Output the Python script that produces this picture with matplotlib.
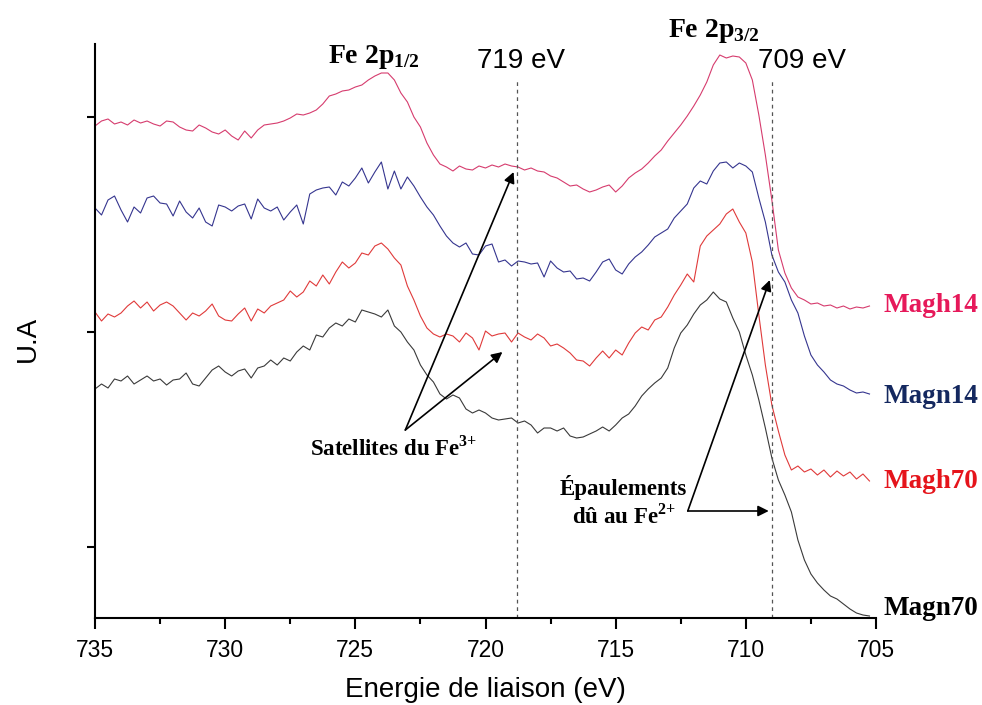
import numpy as np
import matplotlib
matplotlib.use("Agg")
import matplotlib.pyplot as plt

# binding energy grid (eV), 0.25 eV step from 735 down to 705.25
energy = 735 - 0.25 * np.arange(120)

# intensities (arbitrary units)
magh14 = [492, 497, 499, 494, 496, 493, 498, 495, 497, 494,
          492, 497, 496, 491, 488, 487, 493, 490, 486, 484,
          488, 482, 478, 487, 480, 488, 493, 494, 495, 497,
          500, 504, 503, 505, 508, 514, 522, 524, 527, 528,
          531, 533, 538, 542, 545, 545, 538, 525, 516, 501,
          491, 475, 463, 454, 451, 447, 452, 449, 448, 452,
          450, 453, 451, 454, 452, 451, 448, 450, 447, 446,
          442, 440, 436, 432, 433, 429, 426, 428, 431, 433,
          426, 432, 440, 445, 449, 455, 462, 468, 477, 485,
          493, 502, 512, 523, 536, 553, 563, 560, 562, 561,
          555, 538, 503, 463, 418, 368, 345, 330, 321, 318,
          314, 315, 312, 313, 310, 312, 309, 311, 310, 312]

magn14 = [410, 403, 418, 422, 408, 396, 411, 405, 420, 422,
          415, 414, 402, 417, 406, 400, 410, 396, 392, 413,
          411, 407, 412, 414, 399, 419, 410, 407, 411, 398,
          406, 413, 394, 424, 428, 430, 431, 423, 436, 432,
          440, 450, 435, 446, 456, 429, 447, 429, 441, 432,
          421, 411, 403, 392, 382, 375, 371, 375, 364, 363,
          372, 374, 356, 358, 352, 357, 356, 354, 355, 341,
          357, 350, 346, 347, 339, 340, 337, 346, 356, 359,
          348, 344, 354, 361, 366, 373, 381, 385, 389, 400,
          407, 414, 430, 437, 434, 447, 455, 456, 450, 455,
          452, 446, 420, 396, 363, 346, 336, 318, 305, 282,
          263, 253, 246, 238, 234, 232, 228, 225, 226, 224]

magh70 = [306, 297, 304, 301, 305, 312, 317, 310, 316, 307,
          313, 316, 312, 305, 298, 305, 302, 307, 314, 302,
          298, 297, 304, 310, 297, 309, 305, 312, 315, 318,
          327, 321, 326, 337, 332, 343, 334, 346, 356, 350,
          355, 365, 363, 372, 375, 369, 360, 353, 332, 318,
          302, 290, 284, 281, 284, 282, 276, 285, 280, 268,
          287, 282, 284, 285, 276, 285, 281, 278, 284, 280,
          272, 274, 270, 265, 258, 257, 252, 260, 267, 260,
          268, 263, 275, 285, 291, 288, 298, 301, 311, 323,
          333, 344, 336, 372, 382, 388, 394, 404, 409, 396,
          385, 356, 303, 253, 213, 187, 163, 148, 152, 146,
          149, 143, 148, 141, 147, 142, 146, 139, 144, 137]

magn70 = [229, 234, 230, 239, 237, 242, 234, 238, 242, 237,
          239, 233, 238, 239, 245, 234, 232, 240, 248, 252,
          246, 242, 247, 249, 240, 250, 252, 258, 253, 260,
          257, 266, 272, 268, 283, 281, 290, 295, 292, 299,
          296, 308, 306, 304, 301, 308, 292, 286, 276, 268,
          253, 243, 236, 224, 219, 223, 220, 209, 205, 208,
          205, 200, 198, 199, 200, 195, 197, 193, 185, 190,
          190, 187, 190, 182, 180, 181, 184, 187, 191, 187,
          193, 200, 204, 212, 222, 229, 235, 240, 250, 270,
          285, 293, 304, 313, 318, 326, 319, 316, 300, 286,
          263, 243, 218, 190, 160, 138, 123, 106, 78, 58,
          44, 35, 28, 22, 19, 14, 9, 5, 3, 2]

names = ["Magh14", "Magn14", "Magh70", "Magn70"]
series = [magh14, magn14, magh70, magn70]
line_colors = ["#d63c6e", "#35358f", "#e03a3a", "#3a3a3a"]
label_colors = ["#e6195a", "#14285f", "#e5141b", "#000000"]
label_y = [306, 215, 130, 3]

marks = [718.8, 709]
serif = "Liberation Serif"
sans = "Liberation Sans"

fig = plt.figure(figsize=(9.82, 7.05), dpi=100)
ax = fig.add_axes([95 / 982, 87 / 705, 781 / 982, 574 / 705])

for name, y, c, lc, ly in zip(names, series, line_colors, label_colors, label_y):
    ax.plot(energy, y, color=c, lw=0.8)
    ax.text(704.73, ly, name, color=lc, fontsize=19.5, fontweight="bold",
            family=serif, ha="left", va="baseline", clip_on=False)

for m in marks:
    ax.plot([m, m], [0, 540], color="#555555", lw=0.9, ls=(0, (3, 3)))

ax.text(718.62, 550, "719 eV", fontsize=20, family=sans, ha="center", va="baseline")
ax.text(707.85, 550, "709 eV", fontsize=20, family=sans, ha="center", va="baseline")
ax.text(726.04, 555, r"Fe 2p$_{\mathregular{1/2}}$", fontsize=20, fontweight="bold",
        family=serif, ha="left", va="baseline")
ax.text(713.0, 581, r"Fe 2p$_{\mathregular{3/2}}$", fontsize=20, fontweight="bold",
        family=serif, ha="left", va="baseline")

ax.text(726.73, 163, r"Satellites du Fe$^{\mathregular{3{+}}}$", fontsize=16.5,
        fontweight="bold", family=serif, ha="left", va="baseline")
ax.text(714.69, 123, "Épaulements", fontsize=16.5, fontweight="bold",
        family=serif, ha="center", va="baseline")
ax.text(714.69, 95, r"dû au Fe$^{\mathregular{2{+}}}$", fontsize=16.5,
        fontweight="bold", family=serif, ha="center", va="baseline")

arrow = dict(arrowstyle="-|>", color="black", lw=1.2, mutation_scale=16,
             shrinkA=0, shrinkB=0)
for end in [(718.92, 446), (719.35, 266)]:
    ax.annotate("", xy=end, xytext=(723.08, 188), arrowprops=arrow)
for end in [(709.08, 338), (709.12, 107)]:
    ax.annotate("", xy=end, xytext=(712.23, 107), arrowprops=arrow)

ax.set_xlim(735, 705)
ax.set_ylim(0, 574)
ax.set_xticks([735, 730, 725, 720, 715, 710, 705])
ax.set_xticks(np.arange(705, 736, 2.5), minor=True)
ax.set_yticks([71, 286, 501])
ax.set_yticklabels([])
for s in ["top", "right"]:
    ax.spines[s].set_visible(False)
for s in ["left", "bottom"]:
    ax.spines[s].set_linewidth(1.5)
ax.tick_params(axis="x", which="major", length=8, width=1.5, pad=7,
               labelsize=16.5)
ax.tick_params(axis="x", which="minor", length=4, width=1.5)
ax.tick_params(axis="y", which="major", length=6, width=1.5)
for lab in ax.get_xticklabels():
    lab.set_family(sans)

fig.text(485 / 982, 1 - 697 / 705, "Energie de liaison (eV)", fontsize=20,
         family=sans, ha="center", va="baseline")
fig.text(35 / 982, 1 - 339 / 705, "U.A", fontsize=20, family=sans, rotation=90,
         rotation_mode="anchor", ha="center", va="baseline")

fig.savefig("out.png", dpi=100)
